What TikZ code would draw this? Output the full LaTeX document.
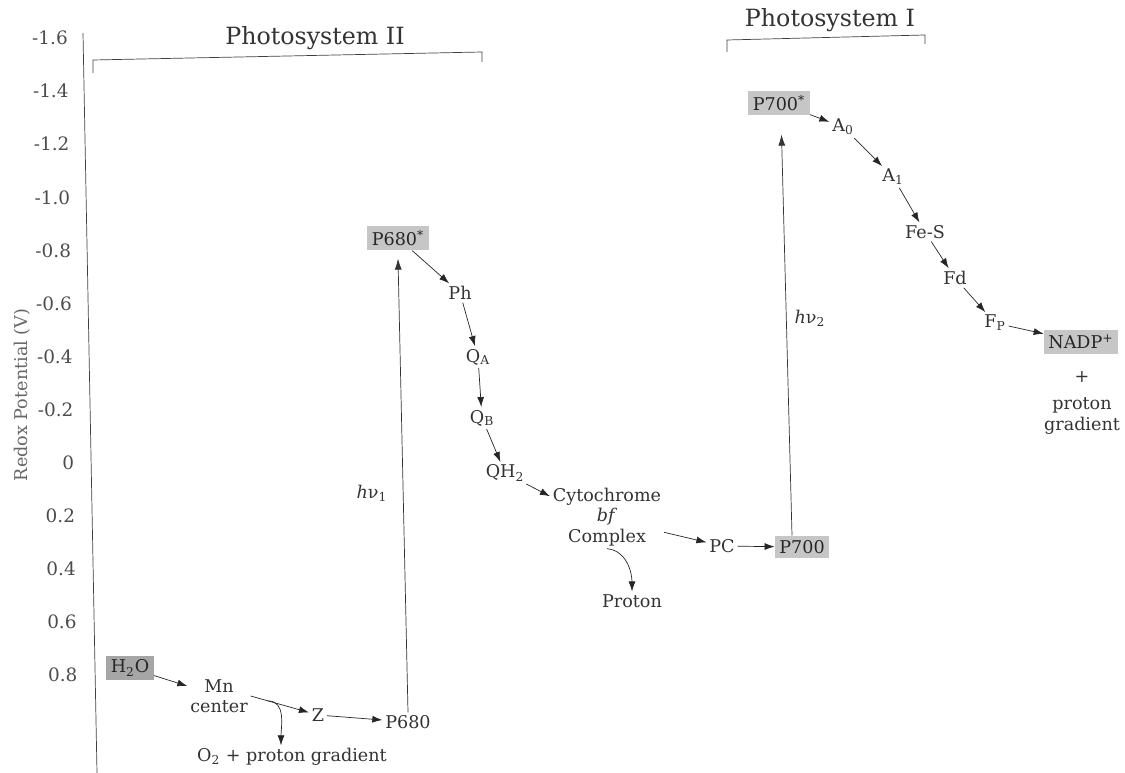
\documentclass[tikz,border=0pt]{standalone}
\usepackage{fontspec}
\setmainfont{DejaVu Serif}
\usetikzlibrary{positioning,arrows.meta}

\begin{document}
\begin{tikzpicture}[
    x=0.02cm, y=-0.02cm,
    font=\fontsize{10}{11.5}\selectfont,
    portador/.style={text=black!80, inner sep=1.5pt, align=center},
    pigmento/.style={fill=gray!45, text=black!85, inner sep=2.5pt},
    escala/.style={text=black!70, anchor=east, font=\fontsize{10.5}{12}\selectfont},
    titulo/.style={text=black!80, font=\fontsize{13.5}{16}\selectfont},
    flecha/.style={-{Latex[length=2mm,width=1.4mm]},black!85,thin},
    rayo/.style={-{Latex[length=2.2mm,width=1.4mm]},black!80,thin}
]
\useasboundingbox (0,0) rectangle (1125,773);

% eje de potencial
\coordinate (ejearriba) at (83,33);
\coordinate (ejeabajo) at (97,773);
\draw[black!75] (ejearriba) -- (ejeabajo);
\foreach \v [count=\i from 0] in {-1.6,-1.4,-1.2,-1.0,-0.8,-0.6,-0.4,-0.2,0,0.2,0.4,0.6,0.8}
    \node[escala] (v\i) at (74+0.8*\i, 38+53.1*\i) {\v};
\node[rotate=90, text=black!60] (redox) at (22,395) {Redox Potential (V)};

% fotosistemas
\node[titulo] (ps2) at (315,38) {Photosystem II};
\draw[black!75] (93,73) -- (93,60) -- (482,52) -- (482,62);
\node[titulo] (ps1) at (830,20) {Photosystem I};
\draw[black!75] (727,52) -- (727,40) -- (925,35) -- (925,44);

% fotosistema II
\node[pigmento, fill=gray!70] (h2o) at (130,668) {H\textsubscript{2}O};
\node[portador] (mn) at (219,696) {Mn\\center};
\node[portador] (z) at (318,715) {Z};
\node[portador] (p680) at (408,722) {P680};
\node[portador] (o2) at (292,757) {O\textsubscript{2} + proton gradient};
\node[pigmento] (p680s) at (398,238) {P680\textsuperscript{*}};
\node[portador] (ph) at (460,293) {Ph};
\node[portador] (qa) at (478,357) {Q\textsubscript{A}};
\node[portador] (qb) at (482,418) {Q\textsubscript{B}};
\node[portador] (qh2) at (505,473) {QH\textsubscript{2}};
\node[portador] (cyt) at (607,517) {Cytochrome\\\textit{bf}\\Complex};
\node[portador] (proton) at (632,601) {Proton};
\node[portador] (pc) at (722,546) {PC};
\node[portador] (hv1) at (372,493) {\textit{h}ν\textsubscript{1}};

% fotosistema I
\node[pigmento] (p700) at (802,547) {P700};
\node[pigmento] (p700s) at (779,103) {P700\textsuperscript{*}};
\node[portador] (a0) at (843,127) {A\textsubscript{0}};
\node[portador] (a1) at (893,177) {A\textsubscript{1}};
\node[portador] (fes) at (925,232) {Fe-S};
\node[portador] (fd) at (955,278) {Fd};
\node[portador] (fp) at (995,323) {F\textsubscript{P}};
\node[pigmento] (nadp) at (1081,342) {NADP\textsuperscript{+}};
\node[portador] (mas) at (1082,377) {+};
\node[portador] (gradiente) at (1082,416) {proton\\gradient};
\node[portador] (hv2) at (810,318) {\textit{h}ν\textsubscript{2}};

% transporte de electrones
\draw[flecha] (h2o) -- (mn);
\draw[flecha] (mn.east) -- (z) coordinate[pos=0.3] (bifurca);
\draw[flecha] (bifurca) to[out=0,in=90] ([xshift=-0.22cm]o2.north);
\draw[flecha] (z) -- (p680);
\draw[rayo] (p680.north) -- ([yshift=-0.16cm]p680s.south);
\draw[flecha] (p680s) -- (ph);
\draw[flecha] (ph) -- (qa);
\draw[flecha] (qa) -- (qb);
\draw[flecha] (qb) -- (qh2);
\draw[flecha] (qh2) -- (cyt.160);
\draw[flecha] (cyt.-15) -- (pc);
\draw[flecha] (cyt.south) to[out=-5,in=90] (proton.north);
\draw[flecha] (pc) -- (p700);
\draw[rayo] ([xshift=-0.2cm]p700.north) -- ([xshift=0.05cm,yshift=-0.38cm]p700s.south);
\draw[flecha] (p700s) -- (a0);
\draw[flecha] (a0) -- (a1);
\draw[flecha] (a1) -- (fes);
\draw[flecha] (fes) -- (fd);
\draw[flecha] (fd) -- (fp);
\draw[flecha] (fp) -- (nadp);

\end{tikzpicture}
\end{document}
